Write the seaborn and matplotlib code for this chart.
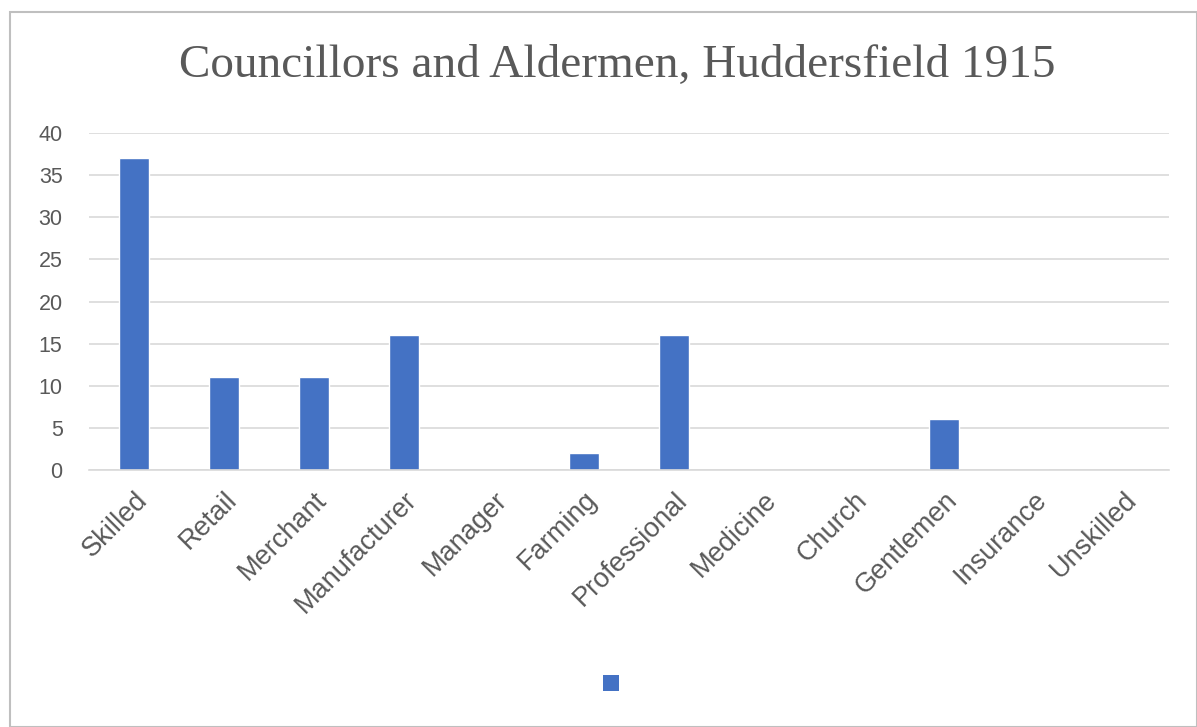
import matplotlib
matplotlib.use("Agg")
import matplotlib.pyplot as plt
import seaborn as sns
import pandas as pd
from matplotlib.patches import Rectangle, Patch

categories = ["Skilled", "Retail", "Merchant", "Manufacturer", "Manager", "Farming",
              "Professional", "Medicine", "Church", "Gentlemen", "Insurance", "Unskilled"]
values = [37, 11, 11, 16, 0, 2, 16, 0, 0, 6, 0, 0]
yticks = [0, 5, 10, 15, 20, 25, 30, 35, 40]
title = "Councillors and Aldermen, Huddersfield 1915"

df = pd.DataFrame({"category": categories, "value": values})

sns.set_theme(style="white")
plt.rcParams['font.family'] = ['Liberation Sans', 'DejaVu Sans']

W, H = 1197, 727
fig = plt.figure(figsize=(W / 100, H / 100), dpi=100)
ax = fig.add_axes([89 / W, 1 - 470 / H, (1169 - 89) / W, (470 - 133) / H])

sns.barplot(data=df, x="category", y="value", ax=ax, color="#4472C4",
            width=0.33, saturation=1)
ax.set_ylim(0, 40)
ax.set_xlim(-0.5, len(categories) - 0.5)
ax.set_yticks(yticks)
ax.yaxis.grid(True, color="#D9D9D9", linewidth=1.2)
ax.set_axisbelow(True)
for s in ["top", "right", "left"]:
    ax.spines[s].set_visible(False)
ax.spines["bottom"].set_color("#D9D9D9")
ax.spines["bottom"].set_linewidth(1.2)
ax.set_xlabel("")
ax.set_ylabel("")
ax.tick_params(axis="both", length=0, colors="#595959")
ax.tick_params(axis="y", pad=19, labelsize=15.5)
ax.tick_params(axis="x", pad=12, labelsize=19.5)
for lab in ax.get_xticklabels():
    lab.set_rotation(45)
    lab.set_ha("right")
    lab.set_rotation_mode("anchor")
for lab in ax.get_yticklabels():
    lab.set_horizontalalignment("right")

fig.text(617 / W, 1 - 66 / H, title, ha="center", va="center",
         fontsize=34, color="#595959", family=["Liberation Serif"])

leg = fig.legend(handles=[Patch(facecolor="#4472C4", edgecolor="none")], labels=[""],
                 loc="center", bbox_to_anchor=(611 / W, 1 - 684 / H), frameon=False,
                 handlelength=0.8, handleheight=0.9, handletextpad=0, borderpad=0,
                 fontsize=14)

fig.patches.append(Rectangle((10 / W, 0), 1 - 10 / W, 1 - 12 / H, transform=fig.transFigure,
                             fill=False, edgecolor="#BFBFBF", linewidth=1.5))

fig.savefig("out.png", dpi=100)
